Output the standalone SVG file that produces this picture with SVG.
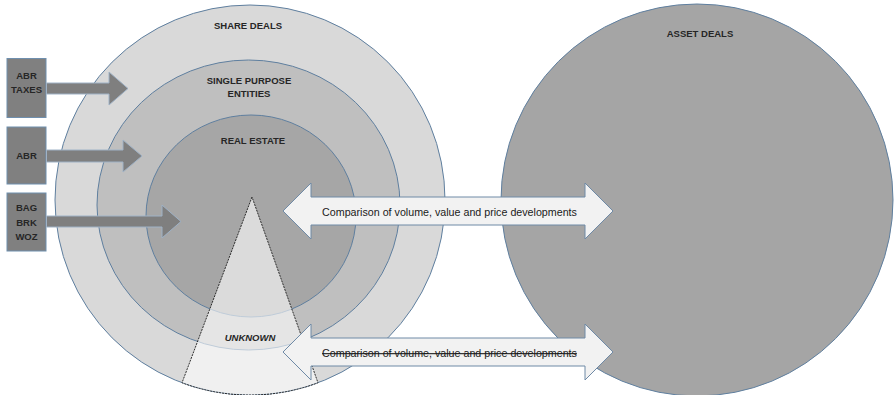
<svg xmlns="http://www.w3.org/2000/svg" width="894" height="395" viewBox="0 0 894 395">
<style>
.ring{stroke:#5f7f9f;stroke-width:1}
.lbl{font-family:"Liberation Sans",Arial,sans-serif;font-weight:bold;font-size:9.5px;fill:#262626;text-anchor:middle;dominant-baseline:central}
.box{fill:#808080;stroke:#6f8fae;stroke-width:1}
.garrow{fill:#7f7f7f;stroke:#9fb2c6;stroke-width:1}
.darrow{fill:#f2f2f2;stroke:#6f8aa6;stroke-width:1}
.cmp{font-family:"Liberation Sans",Arial,sans-serif;font-size:10.7px;fill:#1a1a1a;text-anchor:middle;dominant-baseline:central}
</style>
<rect width="894" height="395" fill="#ffffff"/>
<g id="share-deals">
<circle class="ring" cx="250" cy="200" r="195" fill="#d9d9d9"/>
<text class="lbl" x="248" y="25">SHARE DEALS</text>
</g>
<g id="single-purpose-entities">
<ellipse class="ring" cx="248.5" cy="205" rx="151.5" ry="145" fill="#bfbfbf"/>
<text class="lbl" x="249" y="80">SINGLE PURPOSE</text>
<text class="lbl" x="249" y="93">ENTITIES</text>
</g>
<g id="real-estate">
<ellipse class="ring" cx="251" cy="216" rx="105" ry="101" fill="#a6a6a6"/>
<text class="lbl" x="253" y="140">REAL ESTATE</text>
</g>
<g id="unknown">
<path d="M252,197 L182,382.8 A195,195 0 0,0 318,382.8 Z" fill="#ffffff" fill-opacity="0.6" stroke="#1a1a1a" stroke-width="0.9" stroke-dasharray="2,1"/>
<text class="lbl" x="250" y="337" font-style="italic" font-size="10px">UNKNOWN</text>
</g>
<g id="asset-deals">
<circle class="ring" cx="697" cy="200" r="196" fill="#a5a5a5"/>
<text class="lbl" x="700" y="33">ASSET DEALS</text>
</g>
<g id="src-abr-taxes">
<rect class="box" x="7" y="58.5" width="39" height="59"/>
<text class="lbl" x="26.5" y="75">ABR</text>
<text class="lbl" x="26.5" y="89">TAXES</text>
</g>
<g id="src-abr">
<rect class="box" x="7" y="127" width="39" height="57"/>
<text class="lbl" x="26.5" y="155">ABR</text>
</g>
<g id="src-bag">
<rect class="box" x="7" y="193" width="39" height="58"/>
<text class="lbl" x="26.5" y="207.5">BAG</text>
<text class="lbl" x="26.5" y="222">BRK</text>
<text class="lbl" x="26.5" y="236.5">WOZ</text>
</g>
<g id="connectors">
<path class="garrow" d="M46.5,83 L109,83 L109,72 L128,88.5 L109,105 L109,94 L46.5,94 Z"/>
<path class="garrow" d="M46.5,150 L123,150 L123,140 L142,156 L123,172 L123,162 L46.5,162 Z"/>
<path class="garrow" d="M46.5,216 L162,216 L162,205 L181,221.5 L162,238 L162,227 L46.5,227 Z"/>
<path class="darrow" d="M283,211 L311,183 L311,197 L585,197 L585,183 L613,211 L585,239 L585,225 L311,225 L311,239 Z"/>
<text class="cmp" x="449.5" y="212">Comparison of volume, value and price developments</text>
<path class="darrow" d="M283,352 L311,324 L311,338 L585,338 L585,324 L613,352 L585,380 L585,366 L311,366 L311,380 Z"/>
<text class="cmp" x="449.5" y="353" text-decoration="line-through">Comparison of volume, value and price developments</text>
</g>
</svg>
